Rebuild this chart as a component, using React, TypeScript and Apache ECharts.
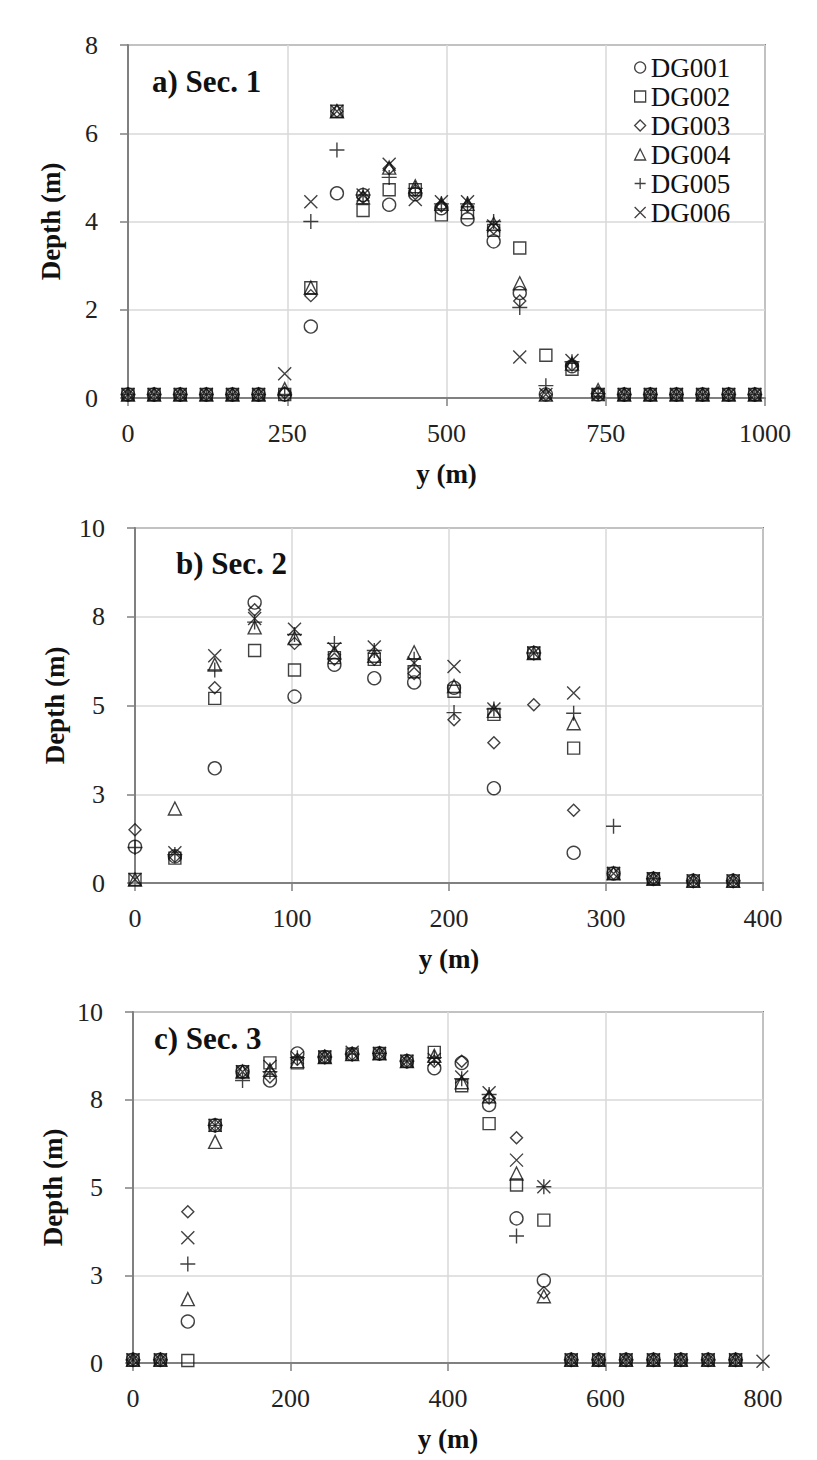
import React, { useEffect, useRef } from "react";
import * as echarts from "echarts";

const SERIES_NAMES = ["DG001", "DG002", "DG003", "DG004", "DG005", "DG006"];

// Panel a) Sec. 1
const A_Y = [0, 41, 82, 123, 164, 205, 246, 287, 328, 369, 410, 451, 492, 533, 574, 615, 656, 697, 738, 779, 820, 861, 902, 943, 984];
const A_DG001 = [0.08, 0.08, 0.08, 0.08, 0.08, 0.08, 0.08, 1.62, 4.64, 4.6, 4.38, 4.62, 4.3, 4.05, 3.55, 2.38, 0.08, 0.72, 0.08, 0.08, 0.08, 0.08, 0.08, 0.08, 0.08];
const A_DG002 = [0.08, 0.08, 0.08, 0.08, 0.08, 0.08, 0.08, 2.5, 6.5, 4.25, 4.72, 4.72, 4.15, 4.2, 3.8, 3.4, 0.97, 0.65, 0.08, 0.08, 0.08, 0.08, 0.08, 0.08, 0.08];
const A_DG003 = [0.08, 0.08, 0.08, 0.08, 0.08, 0.08, 0.12, 2.32, 6.5, 4.55, 5.2, 4.7, 4.35, 4.35, 3.85, 2.2, 0.08, 0.75, 0.1, 0.08, 0.08, 0.08, 0.08, 0.08, 0.08];
const A_DG004 = [0.08, 0.08, 0.08, 0.08, 0.08, 0.08, 0.2, 2.5, 6.5, 4.55, 5.22, 4.8, 4.4, 4.4, 3.95, 2.6, 0.08, 0.78, 0.18, 0.08, 0.08, 0.08, 0.08, 0.08, 0.08];
const A_DG005 = [0.08, 0.08, 0.08, 0.08, 0.08, 0.08, 0.08, 4.0, 5.62, 4.6, 5.0, 4.75, 4.4, 4.4, 4.0, 2.05, 0.28, 0.82, 0.1, 0.08, 0.08, 0.08, 0.08, 0.08, 0.08];
const A_DG006 = [0.08, 0.08, 0.08, 0.08, 0.08, 0.08, 0.55, 4.45, 6.5, 4.6, 5.3, 4.5, 4.45, 4.45, 3.9, 0.93, 0.08, 0.85, 0.08, 0.08, 0.08, 0.08, 0.08, 0.08, 0.08];

// Panel b) Sec. 2
const B_Y = [0, 25.4, 50.8, 76.2, 101.6, 127, 152.4, 177.8, 203.2, 228.6, 254, 279.4, 304.8, 330.2, 355.6, 381];
const B_DG001 = [1.02, 0.75, 3.23, 7.9, 5.25, 6.15, 5.77, 5.65, 5.5, 2.67, 6.48, 0.85, 0.27, 0.12, 0.06, 0.06];
const B_DG002 = [0.1, 0.7, 5.2, 6.55, 6.0, 6.35, 6.3, 5.95, 5.4, 4.75, 6.48, 3.8, 0.27, 0.12, 0.06, 0.06];
const B_DG003 = [1.5, 0.75, 5.5, 7.7, 6.75, 6.3, 6.3, 5.9, 4.6, 3.95, 5.02, 2.05, 0.27, 0.12, 0.06, 0.06];
const B_DG004 = [0.1, 2.1, 6.15, 7.2, 6.9, 6.5, 6.4, 6.5, 5.55, 4.85, 6.48, 4.5, 0.27, 0.12, 0.06, 0.06];
const B_DG005 = [1.0, 0.8, 6.0, 7.35, 7.0, 6.75, 6.55, 6.3, 4.8, 4.9, 6.48, 4.78, 1.6, 0.12, 0.06, 0.06];
const B_DG006 = [0.1, 0.85, 6.4, 7.45, 7.15, 6.6, 6.65, 6.2, 6.1, 4.9, 6.48, 5.35, 0.27, 0.12, 0.06, 0.06];

// Panel c) Sec. 3
const C_Y = [0, 34.8, 69.6, 104.3, 139.1, 173.9, 208.7, 243.5, 278.3, 313.0, 347.8, 382.6, 417.4, 452.2, 487.0, 521.7, 556.5, 591.3, 626.1, 660.9, 695.7, 730.4, 765.2, 800];
const C_DG001 = [0.09, 0.09, 1.18, 6.77, 8.3, 8.05, 8.82, 8.72, 8.8, 8.82, 8.6, 8.4, 8.55, 7.35, 4.12, 2.35, 0.09, 0.09, 0.09, 0.09, 0.09, 0.09, 0.09, null];
const C_DG002 = [0.09, 0.09, 0.07, 6.77, 8.3, 8.55, 8.55, 8.72, 8.8, 8.82, 8.6, 8.85, 7.9, 6.82, 5.07, 4.07, 0.09, 0.09, 0.09, 0.09, 0.09, 0.09, 0.09, null];
const C_DG003 = [0.09, 0.09, 4.31, 6.77, 8.3, 8.15, 8.65, 8.72, 8.8, 8.82, 8.6, 8.6, 8.6, 7.55, 6.42, 2.0, 0.09, 0.09, 0.09, 0.09, 0.09, 0.09, 0.09, null];
const C_DG004 = [0.09, 0.09, 1.82, 6.3, 8.3, 8.35, 8.6, 8.72, 8.8, 8.82, 8.6, 8.75, 8.0, 7.6, 5.4, 1.9, 0.09, 0.09, 0.09, 0.09, 0.09, 0.09, 0.09, null];
const C_DG005 = [0.09, 0.09, 2.82, 6.77, 8.05, 8.3, 8.7, 8.72, 8.8, 8.82, 8.6, 8.7, 8.1, 7.65, 3.62, 5.02, 0.09, 0.09, 0.09, 0.09, 0.09, 0.09, 0.09, null];
const C_DG006 = [0.09, 0.09, 3.57, 6.77, 8.3, 8.45, 8.7, 8.72, 8.85, 8.82, 8.6, 8.65, 8.15, 7.7, 5.78, 5.02, 0.09, 0.09, 0.09, 0.09, 0.09, 0.09, 0.09, 0.05];

const PANEL_TITLES = ["a) Sec. 1", "b) Sec. 2", "c) Sec. 3"];
const X_TITLE = "y (m)";
const Y_TITLE = "Depth (m)";

const SYMBOLS = [
  "circle",
  "rect",
  "diamond",
  "triangle",
  "path://M5 0L5 10M0 5L10 5",
  "path://M0 0L10 10M10 0L0 10",
];
const SYMBOL_SIZES = [13, 12, 12, 13, 15, 13];

const FONT = '"Liberation Serif", "Times New Roman", serif';
const INK = "#111";
const FRAME = "#808080";
const GRIDC = "#d9d9d9";

export default function App() {
  const ref = useRef<HTMLDivElement>(null);

  useEffect(() => {
    document.body.style.margin = "0";
    if (!ref.current) return;
    const chart = echarts.init(ref.current, null, { renderer: "svg" });

    const panels = [
      { xs: A_Y, ys: [A_DG001, A_DG002, A_DG003, A_DG004, A_DG005, A_DG006], xMax: 1000, xInt: 250, yMax: 8, yInt: 2 },
      { xs: B_Y, ys: [B_DG001, B_DG002, B_DG003, B_DG004, B_DG005, B_DG006], xMax: 400, xInt: 100, yMax: 10, yInt: 2.5 },
      { xs: C_Y, ys: [C_DG001, C_DG002, C_DG003, C_DG004, C_DG005, C_DG006], xMax: 800, xInt: 200, yMax: 10, yInt: 2.5 },
    ];
    const grids = [
      { left: 128, top: 45, width: 637, height: 353 },
      { left: 135, top: 528, width: 628, height: 355 },
      { left: 133, top: 1012, width: 630, height: 351 },
    ];
    const titlePos = [
      { x: 152, y: 81 },
      { x: 176, y: 563 },
      { x: 154, y: 1038 },
    ];

    const series: any[] = [];
    panels.forEach((p, pi) => {
      p.ys.forEach((vals, si) => {
        const data: number[][] = [];
        p.xs.forEach((x, i) => {
          if (vals[i] !== null && vals[i] !== undefined) data.push([x, vals[i] as number]);
        });
        series.push({
          type: "scatter",
          name: SERIES_NAMES[si],
          xAxisIndex: pi,
          yAxisIndex: pi,
          data,
          symbol: SYMBOLS[si],
          symbolSize: SYMBOL_SIZES[si],
          clip: false,
          itemStyle: { color: "transparent", borderColor: INK, borderWidth: 1.4 },
          emphasis: { disabled: true },
        });
      });
    });

    const option: any = {
      animation: false,
      backgroundColor: "#fff",
      grid: grids.map((g) => ({
        ...g,
        show: true,
        borderColor: FRAME,
        borderWidth: 2,
        backgroundColor: "transparent",
        containLabel: false,
      })),
      xAxis: panels.map((p, pi) => ({
        type: "value",
        gridIndex: pi,
        min: 0,
        max: p.xMax,
        interval: p.xInt,
        name: X_TITLE,
        nameLocation: "middle",
        nameGap: 62,
        nameTextStyle: { fontFamily: FONT, fontSize: 27, fontWeight: "bold", color: INK },
        axisLine: { show: true, lineStyle: { color: FRAME, width: 2 } },
        axisTick: { show: true, length: 8, lineStyle: { color: FRAME, width: 1.5 } },
        axisLabel: {
          fontFamily: FONT,
          fontSize: 26,
          color: "#222",
          margin: 22,
          formatter: (v: number) => String(v),
        },
        splitLine: { show: true, lineStyle: { color: GRIDC, width: 1.5 } },
      })),
      yAxis: panels.map((p, pi) => ({
        type: "value",
        gridIndex: pi,
        min: 0,
        max: p.yMax,
        interval: p.yInt,
        name: Y_TITLE,
        nameLocation: "middle",
        nameGap: 64,
        nameTextStyle: { fontFamily: FONT, fontSize: 27, fontWeight: "bold", color: INK },
        axisLine: { show: true, lineStyle: { color: FRAME, width: 2 } },
        axisTick: { show: true, length: 8, lineStyle: { color: FRAME, width: 1.5 } },
        axisLabel: {
          fontFamily: FONT,
          fontSize: 26,
          color: "#222",
          margin: 30,
          formatter: (v: number) => String(Math.round(v)),
        },
        splitLine: { show: true, lineStyle: { color: GRIDC, width: 1.5 } },
      })),
      legend: {
        show: true,
        orient: "vertical",
        left: 629,
        top: 48,
        itemWidth: 11,
        itemHeight: 11,
        itemGap: 0,
        selectedMode: false,
        data: SERIES_NAMES,
        itemStyle: { color: "transparent", borderColor: INK, borderWidth: 1.3 },
        textStyle: { fontFamily: FONT, fontSize: 27, color: INK, lineHeight: 29 },
      },
      graphic: PANEL_TITLES.map((t, i) => ({
        type: "text",
        x: titlePos[i].x,
        y: titlePos[i].y,
        style: {
          text: t,
          font: `bold 31px ${FONT}`,
          fill: INK,
          textVerticalAlign: "middle",
        },
        z: 10,
      })),
      series,
    };

    chart.setOption(option);
    return () => chart.dispose();
  }, []);

  return <div ref={ref} style={{ width: 817, height: 1460 }} />;
}
